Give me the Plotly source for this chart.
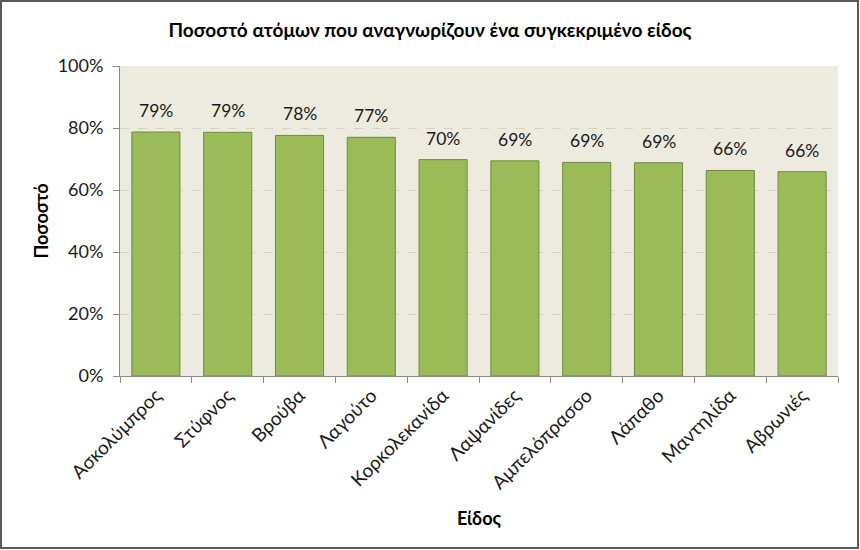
import plotly.graph_objects as go

categories = ["Ασκολύμπρος", "Στύφνος", "Βρούβα", "Λαγούτο", "Κορκολεκανίδα",
              "Λαψανίδες", "Αμπελόπρασσο", "Λάπαθο", "Μαντηλίδα", "Αβρωνιές"]
values = [0.787, 0.786, 0.776, 0.770, 0.698, 0.694, 0.689, 0.688, 0.663, 0.659]
y_ticks = [0, 0.2, 0.4, 0.6, 0.8, 1.0]
y_tick_labels = ["0%", "20%", "40%", "60%", "80%", "100%"]

W, H = 860, 550
ml, mr, mt, mb = 120, 22, 66, 174
pw, ph = W - ml - mr, H - mt - mb

fig = go.Figure()
fig.add_trace(go.Bar(
    x=categories, y=values,
    marker=dict(color="#9BBB59", line=dict(color="#71893F", width=1)),
))

# value labels above bars
for c, v in zip(categories, values):
    fig.add_annotation(x=c, y=v, text=f"{round(v*100)}%", showarrow=False,
                       yanchor="bottom", yshift=9,
                       font=dict(size=17.5, color="#1a1a1a"))

font = "Lato, 'Open Sans', sans-serif"
fig.update_layout(
    width=W, height=H,
    margin=dict(l=ml, r=mr, t=mt, b=mb, autoexpand=False),
    paper_bgcolor="white",
    plot_bgcolor="#EDEBE0",
    font=dict(family=font, color="#1a1a1a"),
    bargap=0.33,
    showlegend=False,
    title=dict(text="<b>Ποσοστό ατόμων που αναγνωρίζουν ένα συγκεκριμένο είδος</b>",
               x=0.5, xanchor="center", y=0.944, yanchor="middle",
               font=dict(size=19, color="black", family=font)),
    xaxis=dict(
        tickangle=-45, tickfont=dict(size=19, color="#1a1a1a"),
        showline=True, linecolor="#8c8c7a", linewidth=1,
        ticks="outside", ticklen=6, tickcolor="#8c8c7a", tickson="boundaries",
        showgrid=False, automargin=False,
        title=dict(text="<b>Είδος</b>", font=dict(size=18, color="black"), standoff=20),
    ),
    yaxis=dict(
        range=[0, 1.0], tickvals=y_ticks, ticktext=y_tick_labels,
        tickfont=dict(size=18, color="#1a1a1a"), automargin=False,
        showline=True, linecolor="#8c8c7a", linewidth=1,
        ticks="outside", ticklen=6, tickcolor="#8c8c7a", ticklabelstandoff=6,
        showgrid=True, gridcolor="#d4d2c4", griddash="dash", gridwidth=1,
        zeroline=False,
        title=dict(text="<b>Ποσοστό</b>", font=dict(size=18, color="black"), standoff=4),
    ),
)

# outer frame of the chart area
fig.add_shape(type="rect", xref="paper", yref="paper",
              x0=-(ml - 1) / pw, x1=1 + (mr - 2) / pw,
              y0=-(mb - 2) / ph, y1=1 + (mt - 1) / ph,
              line=dict(color="#595959", width=2), layer="above")

fig.write_html("out.html", config={"displayModeBar": False},
               post_script="document.body.style.margin='0';document.body.style.overflow='hidden';")
